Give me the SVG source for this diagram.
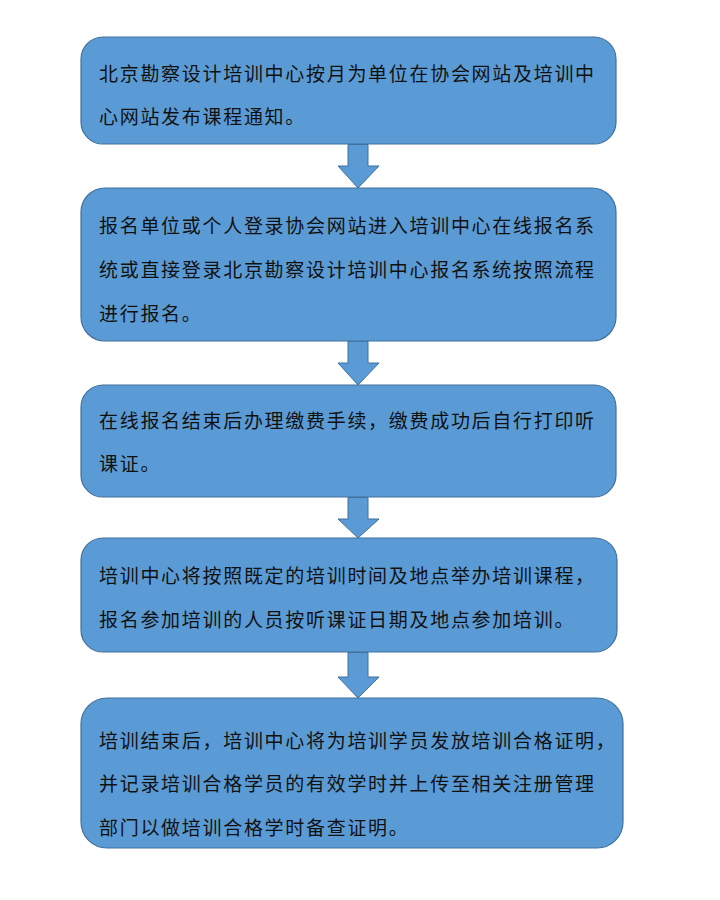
<svg xmlns="http://www.w3.org/2000/svg" width="720" height="900" viewBox="0 0 720 900">
<style>
.box{fill:#5B9BD5;stroke:#41719C;stroke-width:1.2}
.arrow{fill:#5B9BD5;stroke:#41719C;stroke-width:1}
text{font-family:"Noto Sans CJK SC","Noto Sans CJK JP",sans-serif;font-size:19px;letter-spacing:1.7px;fill:#111}
</style>
<rect width="720" height="900" fill="#fff"/>
<g id="connectors">
<path class="arrow" d="M348,144.5 V166 H338 L358,188 L379,166 H368 V144.5 Z"/>
<path class="arrow" d="M348,341 V363 H338 L358,385 L379,363 H368 V341 Z"/>
<path class="arrow" d="M348,497.5 V519 H338 L358,538 L379,519 H368 V497.5 Z"/>
<path class="arrow" d="M348,652.5 V677 H338 L358,698 L379,677 H368 V652.5 Z"/>
</g>
<g id="node1">
<rect class="box" x="81" y="37" width="535" height="107" rx="22"/>
<text x="99" y="81">北京勘察设计培训中心按月为单位在协会网站及培训中</text>
<text x="99" y="124">心网站发布课程通知。</text>
</g>
<g id="node2">
<rect class="box" x="81" y="188" width="535" height="153" rx="24"/>
<text x="99" y="233">报名单位或个人登录协会网站进入培训中心在线报名系</text>
<text x="99" y="277">统或直接登录北京勘察设计培训中心报名系统按照流程</text>
<text x="99" y="321">进行报名。</text>
</g>
<g id="node3">
<rect class="box" x="81" y="385" width="535" height="112" rx="22"/>
<text x="99" y="428">在线报名结束后办理缴费手续，缴费成功后自行打印听</text>
<text x="99" y="471">课证。</text>
</g>
<g id="node4">
<rect class="box" x="81" y="538" width="536" height="114" rx="22"/>
<text x="99" y="583">培训中心将按照既定的培训时间及地点举办培训课程，</text>
<text x="99" y="627">报名参加培训的人员按听课证日期及地点参加培训。</text>
</g>
<g id="node5">
<rect class="box" x="81" y="698" width="542" height="150" rx="26"/>
<text x="99" y="748">培训结束后，培训中心将为培训学员发放培训合格证明，</text>
<text x="99" y="791">并记录培训合格学员的有效学时并上传至相关注册管理</text>
<text x="99" y="835">部门以做培训合格学时备查证明。</text>
</g>
</svg>
